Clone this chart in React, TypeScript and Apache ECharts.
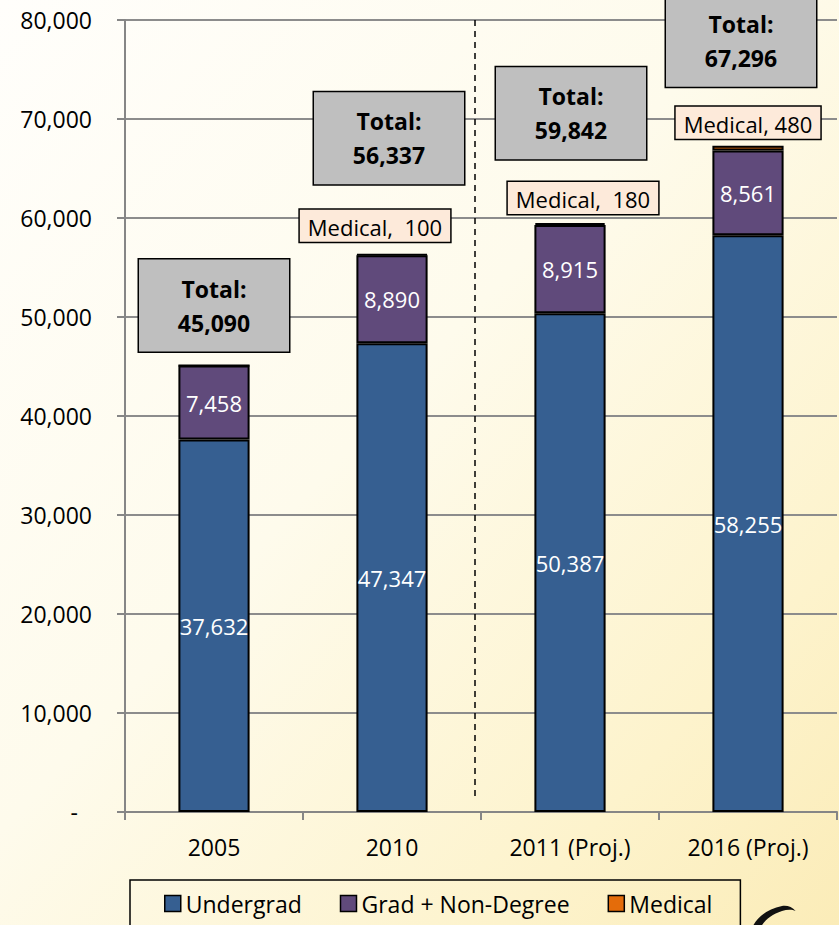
import React, { useEffect, useRef } from "react";
import * as echarts from "echarts";

const categories = ["2005", "2010", "2011 (Proj.)", "2016 (Proj.)"];
const undergrad = [37632, 47347, 50387, 58255];
const gradNonDegree = [7458, 8890, 8915, 8561];
const medical = [0, 100, 180, 480];
const totals = [45090, 56337, 59842, 67296];
const medicalSeparators = [",  ", ",  ", ",  ", ", "];
const yTicks = { min: 0, max: 80000, interval: 10000 };

// label styling (positions relative to bars)
const medicalLabelDist = [0, 12, 9, 7];
const medicalLabelOffsetX = [0, -17, 13, 0];
const totalLabelDist = [14, 70, 64, 59];
const totalLabelOffsetX = [0, -3, 1, -7];

const FONT = "'Open Sans', 'Noto Sans', sans-serif";
const fmt = (v: number) => v.toLocaleString("en-US");

const LOGO_D =
  "M40 0 C20 4 6 16 2 34 L0 40 L10 40 C12 24 22 12 40 6 C46 4 52 4 56 6 C52 1 46 -1 40 0 Z M48 22 L50 27 L55 28 L51 31 L52 36 L48 33 L44 36 L45 31 L41 28 L46 27 Z";

export default function App() {
  const ref = useRef<HTMLDivElement>(null);
  useEffect(() => {
    if (!ref.current) return;
    try {
      echarts.graphic.registerShape("logo", (echarts.graphic as any).extendPath(LOGO_D, {}));
    } catch (e) {}
    const chart = echarts.init(ref.current, null, { renderer: "svg" });
    const option: any = {
      animation: false,
      backgroundColor: new echarts.graphic.LinearGradient(0, 0, 1, 1, [
        { offset: 0, color: "#fffefb" },
        { offset: 0.45, color: "#fefbec" },
        { offset: 0.8, color: "#fdf3cc" },
        { offset: 1, color: "#fbecb8" },
      ]),
      textStyle: { fontFamily: FONT },
      grid: { left: 125, top: 20, width: 712, bottom: 113, containLabel: false },
      legend: {
        data: ["Undergrad", "Grad + Non-Degree", "Medical"],
        left: 130,
        top: 880,
        padding: [12, 28, 22, 34],
        itemGap: 38,
        itemWidth: 16,
        itemHeight: 16,
        icon: "rect",
        borderColor: "#000",
        borderWidth: 1.5,
        itemStyle: { borderColor: "#000", borderWidth: 1.5 },
        textStyle: { fontSize: 23, color: "#000", fontFamily: FONT },
      },
      xAxis: {
        type: "category",
        data: categories,
        axisLine: { show: true, lineStyle: { color: "#868686", width: 2 } },
        axisTick: { show: true, length: 8, lineStyle: { color: "#868686", width: 2 } },
        axisLabel: { fontSize: 23, color: "#000", margin: 23, fontFamily: FONT },
      },
      yAxis: {
        type: "value",
        min: yTicks.min,
        max: yTicks.max,
        interval: yTicks.interval,
        axisLine: { show: true, lineStyle: { color: "#868686", width: 2 } },
        axisTick: { show: true, length: 8, lineStyle: { color: "#868686", width: 2 } },
        splitLine: { show: true, lineStyle: { color: "#8c8c8c", width: 2 } },
        axisLabel: {
          fontSize: 23,
          color: "#000",
          margin: 33,
          fontFamily: FONT,
          formatter: (v: number) => (v === 0 ? "{d|-}" : fmt(v)),
          rich: { d: { fontSize: 23, color: "#000", padding: [0, 14, 0, 0] } },
        },
      },
      series: [
        {
          name: "Undergrad",
          type: "bar",
          stack: "a",
          barWidth: "40%",
          data: undergrad,
          itemStyle: { color: "#365F91", borderColor: "#000", borderWidth: 2 },
          label: {
            show: true,
            position: "inside",
            color: "#fff",
            fontSize: 22,
            fontFamily: FONT,
            formatter: (p: any) => fmt(p.value),
          },
        },
        {
          name: "Grad + Non-Degree",
          type: "bar",
          stack: "a",
          data: gradNonDegree,
          itemStyle: { color: "#604A7B", borderColor: "#000", borderWidth: 2 },
          label: {
            show: true,
            position: "inside",
            color: "#fff",
            fontSize: 22,
            fontFamily: FONT,
            formatter: (p: any) => fmt(p.value),
          },
        },
        {
          name: "Medical",
          type: "bar",
          stack: "a",
          data: medical.map((v, i) => ({
            value: v,
            label: {
              show: v > 0,
              distance: medicalLabelDist[i],
              offset: [medicalLabelOffsetX[i], 0],
              formatter: "Medical" + medicalSeparators[i] + fmt(v),
            },
          })),
          itemStyle: { color: "#E46C0A", borderColor: "#000", borderWidth: 2 },
          label: {
            show: true,
            position: "top",
            color: "#000",
            fontSize: 22,
            fontFamily: FONT,
            backgroundColor: "#FDEADA",
            borderColor: "#000",
            borderWidth: 1.5,
            padding: [6, 8, 4, 8],
          },
        },
        {
          name: "Total",
          type: "bar",
          stack: "a",
          data: totals.map((t, i) => ({
            value: 0,
            label: {
              distance: totalLabelDist[i],
              offset: [totalLabelOffsetX[i], 0],
              formatter: "Total:\n" + fmt(t),
            },
          })),
          itemStyle: { color: "transparent", borderWidth: 0 },
          label: {
            show: true,
            position: "top",
            color: "#000",
            fontSize: 23,
            fontWeight: "bold",
            fontFamily: FONT,
            lineHeight: 34,
            width: 80,
            align: "center",
            backgroundColor: "#BFBFBF",
            borderColor: "#000",
            borderWidth: 1.5,
            padding: [12, 35, 12, 35],
          },
        },
      ],
    };
    chart.setOption(option);
    const a = chart.convertToPixel({ xAxisIndex: 0 }, categories[1]) as number;
    const b = chart.convertToPixel({ xAxisIndex: 0 }, categories[2]) as number;
    const yTop = chart.convertToPixel({ yAxisIndex: 0 }, yTicks.max) as number;
    const yBot = chart.convertToPixel({ yAxisIndex: 0 }, 1200) as number;
    const xm = (a + b) / 2 - 6;
    chart.setOption({
      graphic: [
        {
          type: "line",
          shape: { x1: xm, y1: yTop, x2: xm, y2: yBot },
          style: { stroke: "#000", lineWidth: 1.5, lineDash: [6, 5] },
          z: 10,
        },
        {
          type: "logo",
          x: 748,
          y: 906,
          scaleX: 0.85,
          scaleY: 0.85,
          style: { fill: "#111" },
          z: 10,
        },
      ],
    });
    return () => chart.dispose();
  }, []);
  return (
    <div
      ref={ref}
      style={{ position: "fixed", left: 0, top: 0, width: 839, height: 925 }}
    />
  );
}
